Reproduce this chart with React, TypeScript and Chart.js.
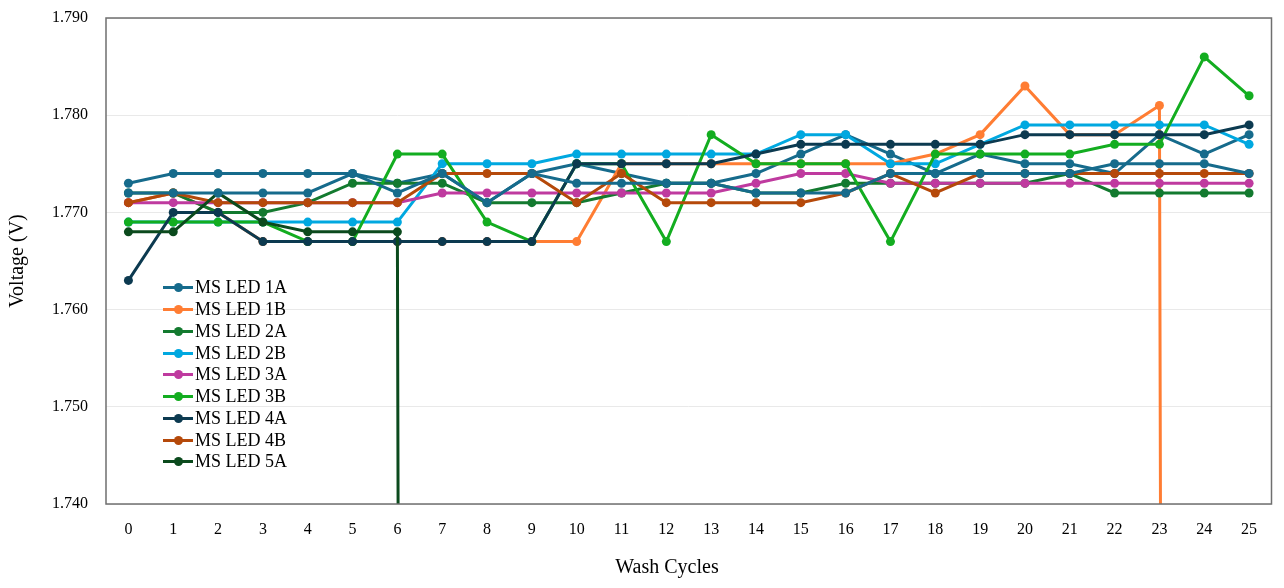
import React, { useEffect, useRef } from 'react';
import { Chart, registerables } from 'chart.js';

Chart.register(...registerables);

const washCycles = ['0', '1', '2', '3', '4', '5', '6', '7', '8', '9', '10', '11', '12', '13', '14', '15', '16', '17', '18', '19', '20', '21', '22', '23', '24', '25'];

const msLed1A = [1.773, 1.774, 1.774, 1.774, 1.774, 1.774, 1.773, 1.774, 1.771, 1.774, 1.775, 1.774, 1.773, 1.773, 1.774, 1.776, 1.778, 1.776, 1.774, 1.776, 1.775, 1.775, 1.774, 1.778, 1.776, 1.778];
const msLed1B = [1.771, 1.772, 1.770, 1.767, 1.767, 1.767, 1.767, 1.767, 1.767, 1.767, 1.767, 1.775, 1.775, 1.775, 1.775, 1.775, 1.775, 1.775, 1.776, 1.778, 1.783, 1.778, 1.778, 1.781, 0, null];
const msLed2A = [1.772, 1.772, 1.770, 1.770, 1.771, 1.773, 1.773, 1.773, 1.771, 1.771, 1.771, 1.772, 1.773, 1.773, 1.772, 1.772, 1.773, 1.773, 1.773, 1.773, 1.773, 1.774, 1.772, 1.772, 1.772, 1.772];
const msLed2B = [1.769, 1.769, 1.769, 1.769, 1.769, 1.769, 1.769, 1.775, 1.775, 1.775, 1.776, 1.776, 1.776, 1.776, 1.776, 1.778, 1.778, 1.775, 1.775, 1.777, 1.779, 1.779, 1.779, 1.779, 1.779, 1.777];
const msLed3A = [1.771, 1.771, 1.771, 1.771, 1.771, 1.771, 1.771, 1.772, 1.772, 1.772, 1.772, 1.772, 1.772, 1.772, 1.773, 1.774, 1.774, 1.773, 1.773, 1.773, 1.773, 1.773, 1.773, 1.773, 1.773, 1.773];
const msLed3B = [1.769, 1.769, 1.769, 1.769, 1.767, 1.767, 1.776, 1.776, 1.769, 1.767, 1.775, 1.775, 1.767, 1.778, 1.775, 1.775, 1.775, 1.767, 1.776, 1.776, 1.776, 1.776, 1.777, 1.777, 1.786, 1.782];
const msLed4A = [1.763, 1.770, 1.770, 1.767, 1.767, 1.767, 1.767, 1.767, 1.767, 1.767, 1.775, 1.775, 1.775, 1.775, 1.776, 1.777, 1.777, 1.777, 1.777, 1.777, 1.778, 1.778, 1.778, 1.778, 1.778, 1.779];
const msLed4B = [1.771, 1.772, 1.771, 1.771, 1.771, 1.771, 1.771, 1.774, 1.774, 1.774, 1.771, 1.774, 1.771, 1.771, 1.771, 1.771, 1.772, 1.774, 1.772, 1.774, 1.774, 1.774, 1.774, 1.774, 1.774, 1.774];
const msLed5A = [1.768, 1.768, 1.772, 1.769, 1.768, 1.768, 1.768, 0, null, null, null, null, null, null, null, null, null, null, null, null, null, null, null, null, null, null];
const msLed5B = [1.772, 1.772, 1.772, 1.772, 1.772, 1.774, 1.772, 1.774, 1.771, 1.774, 1.773, 1.773, 1.773, 1.773, 1.772, 1.772, 1.772, 1.774, 1.774, 1.774, 1.774, 1.774, 1.775, 1.775, 1.775, 1.774];

const seriesLabels = ['MS LED 1A', 'MS LED 1B', 'MS LED 2A', 'MS LED 2B', 'MS LED 3A', 'MS LED 3B', 'MS LED 4A', 'MS LED 4B', 'MS LED 5A', 'MS LED 5B'];
const seriesColors = ['#166b8c', '#ff7d33', '#137a2f', '#00a8e0', '#bf3a9f', '#13ad20', '#0c3a50', '#b5490a', '#0b4a1d', '#166b8c'];
const legendCount = 9;

const yTickLabels = ['1.740', '1.750', '1.760', '1.770', '1.780', '1.790'];
const xAxisTitle = 'Wash Cycles';
const yAxisTitle = 'Voltage (V)';

const FONT = "'Liberation Serif', 'Times New Roman', serif";

export default function App() {
  const ref = useRef<HTMLCanvasElement>(null);

  useEffect(() => {
    const series = [msLed1A, msLed1B, msLed2A, msLed2B, msLed3A, msLed3B, msLed4A, msLed4B, msLed5A, msLed5B];
    const boxPlugin = {
      id: 'plotBox',
      afterDraw(chart: any) {
        const { ctx, chartArea } = chart;
        ctx.save();
        ctx.strokeStyle = '#6f6f6f';
        ctx.lineWidth = 1.5;
        ctx.strokeRect(chartArea.left, chartArea.top, chartArea.right - chartArea.left, chartArea.bottom - chartArea.top);
        ctx.restore();
      },
    };
    const chart = new Chart(ref.current!, {
      type: 'line',
      data: {
        labels: washCycles,
        datasets: series.map((d, i) => ({
          label: seriesLabels[i],
          data: d,
          borderColor: seriesColors[i],
          backgroundColor: seriesColors[i],
          pointBackgroundColor: seriesColors[i],
          pointBorderColor: seriesColors[i],
          borderWidth: 3,
          pointRadius: 4.5,
          pointHoverRadius: 4.5,
          pointBorderWidth: 0,
          tension: 0,
          order: -i,
        })),
      },
      options: {
        responsive: false,
        animation: false,
        layout: { padding: { top: 10, right: 3, left: 0, bottom: 0 } },
        plugins: { legend: { display: false }, tooltip: { enabled: false } },
        scales: {
          x: {
            type: 'category',
            offset: true,
            grid: { display: false, drawTicks: false },
            border: { display: false },
            ticks: { color: '#000', font: { family: FONT, size: 16 }, padding: 16, maxRotation: 0, autoSkip: false },
            title: { display: false },
            afterFit: (s: any) => { s.height = 76; s.paddingLeft = 0; s.paddingRight = 0; },
          },
          y: {
            min: 1.74,
            max: 1.79,
            grid: { color: '#e9e9e9', drawTicks: false, lineWidth: 1 },
            border: { display: false },
            ticks: {
              stepSize: 0.01,
              color: '#000',
              font: { family: FONT, size: 16 },
              padding: 18,
              callback: (_v: any, idx: number) => yTickLabels[idx],
            },
            title: { display: true, text: yAxisTitle, color: '#000', font: { family: FONT, size: 20 }, padding: { top: -2, bottom: 0 } },
            afterFit: (s: any) => { s.width = 98; s.paddingTop = 0; s.paddingBottom = 0; },
          },
        },
      },
      plugins: [boxPlugin],
    });
    return () => chart.destroy();
  }, []);

  return (
    <div style={{ position: 'relative', width: 1268, height: 572 }}>
      <canvas ref={ref} width={1268} height={572} />
      <div style={{ position: 'absolute', left: 559, width: 200, top: 546, textAlign: 'center', fontFamily: FONT, fontSize: 20, lineHeight: '24px', color: '#000' }}>
        {xAxisTitle}
      </div>
      <div style={{ position: 'absolute', left: 155, top: 269, fontFamily: FONT, fontSize: 18, color: '#000' }}>
        {seriesLabels.slice(0, legendCount).map((lab, i) => (
          <div key={lab} style={{ display: 'flex', alignItems: 'center', height: 21.75, whiteSpace: 'nowrap' }}>
            <div style={{ position: 'relative', width: 30, height: 9, marginRight: 2 }}>
              <div style={{ position: 'absolute', left: 0, right: 0, top: 3, height: 3, background: seriesColors[i] }} />
              <div style={{ position: 'absolute', left: 10.5, top: 0, width: 9, height: 9, borderRadius: '50%', background: seriesColors[i] }} />
            </div>
            <span>{lab}</span>
          </div>
        ))}
      </div>
    </div>
  );
}
